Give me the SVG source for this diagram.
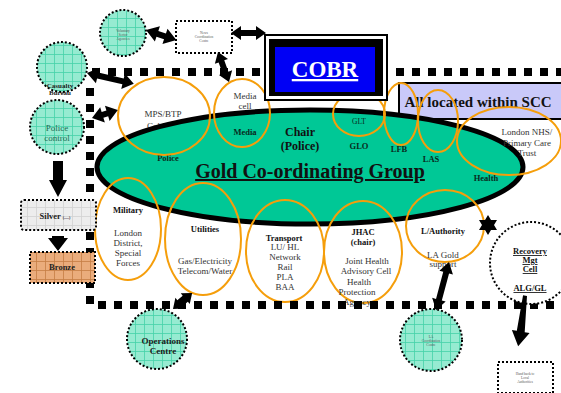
<svg xmlns="http://www.w3.org/2000/svg" width="561" height="393" viewBox="0 0 561 393">
<defs>
<pattern id="grid" width="9" height="9" patternUnits="userSpaceOnUse">
<rect width="9" height="9" fill="#96ebd1"/>
<path d="M0,0.5H9M0.5,0V9" stroke="#45d2a8" stroke-width="0.8"/>
</pattern>
<pattern id="sgrid" width="9" height="9" patternUnits="userSpaceOnUse">
<rect width="9" height="9" fill="#ededed"/>
<path d="M0,0.5H9M0.5,0V9" stroke="#d2d2d2" stroke-width="0.8"/>
</pattern>
<pattern id="bgrid" width="9" height="9" patternUnits="userSpaceOnUse">
<rect width="9" height="9" fill="#eaac7c"/>
<path d="M0,0.5H9M0.5,0V9" stroke="#c57e45" stroke-width="0.8"/>
</pattern>
<style>
text{font-family:"Liberation Serif","Times New Roman",serif;text-anchor:middle}
.n{font-size:9px;fill:#333}
.b{font-size:8.5px;font-weight:bold;fill:#111}
.g{font-size:8.5px;font-weight:bold;fill:#0a2a20}
.t{font-size:3.5px;fill:#555}
.orange{fill:none;stroke:#f59e0b;stroke-width:2}
.dash{fill:none;stroke:#000;stroke-width:8;stroke-dasharray:8 8}
.dot{stroke:#000;stroke-width:2;stroke-dasharray:2 2}
.arr{fill:#000}
</style>
</defs>

<g id="boundary">
<path class="dash" d="M92,72H561"/>
<path class="dash" d="M90,88V305"/>
</g>

<g id="scc">
<rect x="399" y="83" width="165" height="36" fill="#c9c9f9" stroke="#000" stroke-width="2"/>
<text x="478" y="107" style="font-size:15px;font-weight:bold;fill:#111">All located within SCC</text>
</g>

<text class="n" x="163" y="128.5">Col BTP</text>

<g id="gold">
<ellipse cx="310" cy="167" rx="213" ry="57" fill="#00c896" stroke="#000" stroke-width="5"/>
<text x="310" y="178" style="font-size:20px;font-weight:bold;fill:#111;text-decoration:underline">Gold Co-ordinating Group</text>
<text x="300" y="136" style="font-size:12px;font-weight:bold;fill:#111">Chair</text>
<text x="300" y="150" style="font-size:12px;font-weight:bold;fill:#111">(Police)</text>
<text class="g" x="168" y="161">Police</text>
<text class="g" x="245" y="135">Media</text>
<text class="g" x="359" y="149">GLO</text>
<text class="g" x="399" y="152">LFB</text>
<text class="g" x="431" y="162">LAS</text>
<text class="g" x="486" y="181">Health</text>
</g>

<g id="police-mps">
<ellipse class="orange" cx="164" cy="116" rx="46" ry="39"/>
<text class="n" x="163" y="117">MPS/BTP</text>
</g>
<g id="media-cell">
<ellipse class="orange" cx="242" cy="113" rx="28" ry="34"/>
<text class="n" x="245" y="99">Media</text>
<text class="n" x="245" y="109">cell</text>
</g>
<g id="glt">
<ellipse class="orange" cx="359" cy="114" rx="26" ry="22"/>
<text x="359" y="124" style="font-size:7.5px;fill:#0a2a20">GLT</text>
</g>
<g id="lfb">
<ellipse class="orange" cx="401" cy="114" rx="17" ry="31"/>
</g>
<g id="las">
<ellipse class="orange" cx="438" cy="121" rx="20" ry="31"/>
</g>
<g id="nhs">
<ellipse class="orange" cx="509" cy="141" rx="52" ry="34"/>
<text class="n" x="527" y="135">London NHS/</text>
<text class="n" x="527" y="146">Primary Care</text>
<text class="n" x="527" y="156">Trust</text>
</g>
<g id="military">
<ellipse class="orange" cx="128" cy="229" rx="33" ry="51"/>
<text class="b" x="128" y="213">Military</text>
<text class="n" x="128" y="236">London</text>
<text class="n" x="128" y="246">District,</text>
<text class="n" x="128" y="256">Special</text>
<text class="n" x="128" y="266">Forces</text>
</g>
<g id="utilities">
<ellipse class="orange" cx="203" cy="239" rx="38" ry="56"/>
<text class="b" x="205" y="232">Utilities</text>
<text class="n" x="205" y="264">Gas/Electricity</text>
<text class="n" x="205" y="274">Telecom/Water</text>
</g>
<g id="transport">
<ellipse class="orange" cx="285" cy="251" rx="39" ry="51"/>
<text class="b" x="284" y="241">Transport</text>
<text class="n" x="285" y="250">LU/ HL</text>
<text class="n" x="285" y="260">Network</text>
<text class="n" x="285" y="270">Rail</text>
<text class="n" x="285" y="280">PLA</text>
<text class="n" x="285" y="290">BAA</text>
</g>
<g id="jhac">
<ellipse class="orange" cx="363" cy="252" rx="39" ry="51"/>
<text class="b" x="363" y="235">JHAC</text>
<text class="b" x="363" y="245">(chair)</text>
<text class="n" x="367" y="264">Joint Health</text>
<text class="n" x="366" y="274">Advisory Cell</text>
<text class="n" x="359" y="285">Health</text>
<text class="n" x="357" y="295">Protection</text>
<text class="n" x="357" y="305">Agency</text>
</g>
<g id="la">
<ellipse class="orange" cx="445" cy="226" rx="39" ry="36"/>
<text class="b" x="443" y="234">L/Authority</text>
<text class="n" x="443" y="258">LA Gold</text>
<text class="n" x="443" y="267">support</text>
</g>

<path class="dash" d="M98,305H556"/>

<g id="cobr">
<rect x="265" y="35" width="122" height="65" fill="#fff" stroke="#000" stroke-width="2"/>
<rect x="269" y="39" width="114" height="57" fill="#000"/>
<rect x="275" y="47" width="100" height="45" fill="#0000f5"/>
<text x="325" y="77" style="font-size:23px;font-weight:bold;fill:#fff;text-decoration:underline">COBR</text>
</g>

<g id="voluntary">
<circle cx="123" cy="33" r="23" fill="url(#grid)" class="dot"/>
<text class="t" x="123" y="32">Voluntary</text>
<text class="t" x="123" y="36">Sector</text>
<text class="t" x="123" y="40">Agencies</text>
</g>
<g id="news">
<rect x="176" y="21" width="56" height="32" fill="#fff" class="dot"/>
<text class="t" x="204" y="34">News</text>
<text class="t" x="204" y="38">Coordination</text>
<text class="t" x="204" y="42">Centre</text>
</g>
<g id="casualty">
<circle cx="62" cy="67" r="25" fill="url(#grid)" class="dot"/>
<text x="60" y="88" style="font-size:7px;font-weight:bold;fill:#1a1a1a">Casualty</text>
<text x="60" y="95" style="font-size:7px;font-weight:bold;fill:#1a1a1a">Bureau</text>
</g>
<g id="police-control">
<circle cx="57" cy="127" r="27" fill="url(#grid)" class="dot"/>
<text x="57" y="131" style="font-size:9px;fill:#1d6b55">Police</text>
<text x="57" y="141" style="font-size:9px;fill:#1d6b55">control</text>
</g>
<g id="silver">
<rect x="21" y="200" width="75" height="30" rx="3" fill="url(#sgrid)" class="dot"/>
<text x="55" y="219" style="font-size:8.5px;font-weight:bold;fill:#222">Silver <tspan style="font-size:4px">(.....)</tspan></text>
</g>
<g id="bronze">
<rect x="30" y="252" width="65" height="31" fill="url(#bgrid)" class="dot"/>
<text x="62" y="270" style="font-size:8.5px;font-weight:bold;fill:#222">Bronze</text>
</g>
<g id="operations">
<circle cx="157" cy="339" r="30" fill="url(#grid)" class="dot"/>
<text x="163" y="344" style="font-size:9px;font-weight:bold;fill:#1a1a1a">Operations</text>
<text x="163" y="354" style="font-size:9px;font-weight:bold;fill:#1a1a1a">Centre</text>
</g>
<g id="la-coord">
<circle cx="431" cy="340" r="31" fill="url(#grid)" class="dot"/>
<text class="t" x="431" y="338">LA</text>
<text class="t" x="431" y="342">Coordination</text>
<text class="t" x="431" y="346">Centre</text>
</g>
<g id="recovery">
<circle cx="531" cy="263" r="41" fill="#fff" class="dot"/>
<text x="530" y="254" style="font-size:8.5px;font-weight:bold;fill:#111;text-decoration:underline">Recovery</text>
<text x="530" y="263" style="font-size:8.5px;font-weight:bold;fill:#111;text-decoration:underline">Mgt</text>
<text x="530" y="272" style="font-size:8.5px;font-weight:bold;fill:#111;text-decoration:underline">Cell</text>
<text x="530" y="291" style="font-size:8.5px;font-weight:bold;fill:#111;text-decoration:underline">ALG/GL</text>
</g>
<g id="handover">
<rect x="498" y="362" width="55" height="31" fill="#fff" class="dot"/>
<text class="t" x="525" y="375">Hand back to</text>
<text class="t" x="525" y="379">Local</text>
<text class="t" x="525" y="383">Authorities</text>
</g>

<g id="connectors">
<path class="arr" transform="translate(146,30) rotate(18.4)" d="M0,0L12,-8L12,-3L20,-3L20,-8L32,0L20,8L20,3L12,3L12,8Z"/>
<path class="arr" transform="translate(231,33)" d="M0,0L10,-7L10,-3L25,-3L25,-7L35,0L25,7L25,3L10,3L10,7Z"/>
<path class="arr" transform="translate(218,52) rotate(69.9)" d="M0,0L10,-7L10,-3L22,-3L22,-7L32,0L22,7L22,3L10,3L10,7Z"/>
<path class="arr" transform="translate(87,73) rotate(13)" d="M0,0L11,-8L11,-3L37,-3L37,-8L48,0L37,8L37,3L11,3L11,8Z"/>
<path class="arr" transform="translate(92,118) rotate(-17)" d="M0,0L11,-8L11,-3L16,-3L16,-8L27,0L16,8L16,3L11,3L11,8Z"/>
<path class="arr" transform="translate(173,309) rotate(-40)" d="M0,0L9,-7L9,-4L16,-4L16,-7L25,0L16,7L16,4L9,4L9,7Z"/>
<path class="arr" transform="translate(449,262) rotate(105)" d="M0,0L11,-7L11,-3L39,-3L39,-7L50,0L39,7L39,3L11,3L11,7Z"/>
<path class="arr" transform="translate(527,296) rotate(100)" d="M0,0L36,-4L36,-9L51,0L36,9L36,4L0,4Z"/>
<path class="arr" d="M53,161H63V180H67L58,197L49,180H53Z"/>
<path class="arr" d="M52,236H64V238H68L58,251L48,238H52Z"/>
<path class="arr" d="M488,215L491,220L497,220L494,225L497,230L491,230L488,235L485,230L479,230L482,225L479,220L485,220Z"/>
</g>
</svg>
